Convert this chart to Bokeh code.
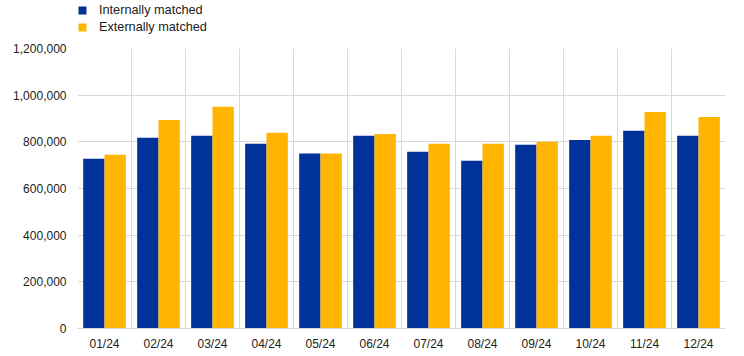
from bokeh.plotting import figure
from bokeh.layouts import column
from bokeh.models import (ColumnDataSource, FixedTicker, NumeralTickFormatter,
                          Legend, LegendItem, Range1d)
from bokeh.embed import file_html
from bokeh.resources import INLINE

months = ["01/24", "02/24", "03/24", "04/24", "05/24", "06/24",
          "07/24", "08/24", "09/24", "10/24", "11/24", "12/24"]
internally = [728000, 817000, 826000, 792000, 750000, 826000,
              757000, 719000, 788000, 808000, 847000, 826000]
externally = [745000, 894000, 950000, 839000, 750000, 834000,
              792000, 792000, 800000, 826000, 928000, 906000]
yticks = [0, 200000, 400000, 600000, 800000, 1000000, 1200000]
series = ["Internally matched", "Externally matched"]

BLUE = "#003299"
YELLOW = "#FFB400"
GRID = "#d9d9d9"
TEXT = "#222222"
FONT = "Liberation Sans"

n = len(months)
idx = list(range(n))
w = 0.395
src = ColumnDataSource(dict(
    xi=[i - w / 2 for i in idx], xe=[i + w / 2 for i in idx],
    yi=internally, ye=externally))

p = figure(width=728, height=313, output_backend="svg", toolbar_location=None,
           x_range=Range1d(-0.5, n - 0.5), y_range=Range1d(0, 1200000),
           min_border_left=77, min_border_right=3, min_border_top=8,
           min_border_bottom=10)
p.outline_line_color = None
p.background_fill_color = "white"
p.border_fill_color = "white"

r1 = p.vbar(x="xi", top="yi", width=w, source=src, fill_color=BLUE, line_color=None)
r2 = p.vbar(x="xe", top="ye", width=w, source=src, fill_color=YELLOW, line_color=None)

p.xaxis.ticker = FixedTicker(ticks=idx)
p.xaxis.major_label_overrides = {i: m for i, m in enumerate(months)}
p.xaxis.major_tick_line_color = None
p.xaxis.minor_tick_line_color = None
p.xaxis.axis_line_color = GRID
p.xaxis.major_tick_out = 0
p.xaxis.major_tick_in = 0
p.xaxis.major_label_standoff = 8
p.xaxis.major_label_text_font = FONT
p.xaxis.major_label_text_font_size = "12px"
p.xaxis.major_label_text_color = TEXT

p.yaxis.ticker = FixedTicker(ticks=yticks)
p.yaxis.formatter = NumeralTickFormatter(format="0,0")
p.yaxis.major_tick_line_color = None
p.yaxis.minor_tick_line_color = None
p.yaxis.axis_line_color = None
p.yaxis.major_tick_out = 0
p.yaxis.major_tick_in = 0
p.yaxis.major_label_standoff = 11
p.yaxis.major_label_text_font = FONT
p.yaxis.major_label_text_font_size = "12px"
p.yaxis.major_label_text_color = TEXT

p.xgrid.ticker = FixedTicker(ticks=[i - 0.5 for i in range(n + 1)])
p.xgrid.grid_line_color = GRID
p.ygrid.grid_line_color = GRID

# legend strip (dummy renderers lie outside the strip's visible range)
lg = figure(width=728, height=40, output_backend="svg", toolbar_location=None,
            x_range=Range1d(0, 1), y_range=Range1d(0, 1),
            min_border_left=77, min_border_right=3, min_border_top=0,
            min_border_bottom=0)
lg.axis.visible = False
lg.grid.visible = False
lg.outline_line_color = None
lg.border_fill_color = "white"
lr1 = lg.vbar(x=[5], top=[5], bottom=[4], width=0.1, fill_color=BLUE, line_color=None)
lr2 = lg.vbar(x=[5], top=[5], bottom=[4], width=0.1, fill_color=YELLOW, line_color=None)
legend = Legend(items=[LegendItem(label=series[0], renderers=[lr1]),
                       LegendItem(label=series[1], renderers=[lr2])],
                location=(0, 6), orientation="vertical",
                padding=0, margin=0, spacing=3,
                glyph_width=10, glyph_height=10, label_height=14,
                label_standoff=12, label_text_font=FONT,
                label_text_font_size="12.7px", label_text_color=TEXT,
                border_line_color=None, background_fill_alpha=0)
lg.add_layout(legend)

layout = column(lg, p, spacing=0)
open("out.html", "w").write(file_html(layout, INLINE))
